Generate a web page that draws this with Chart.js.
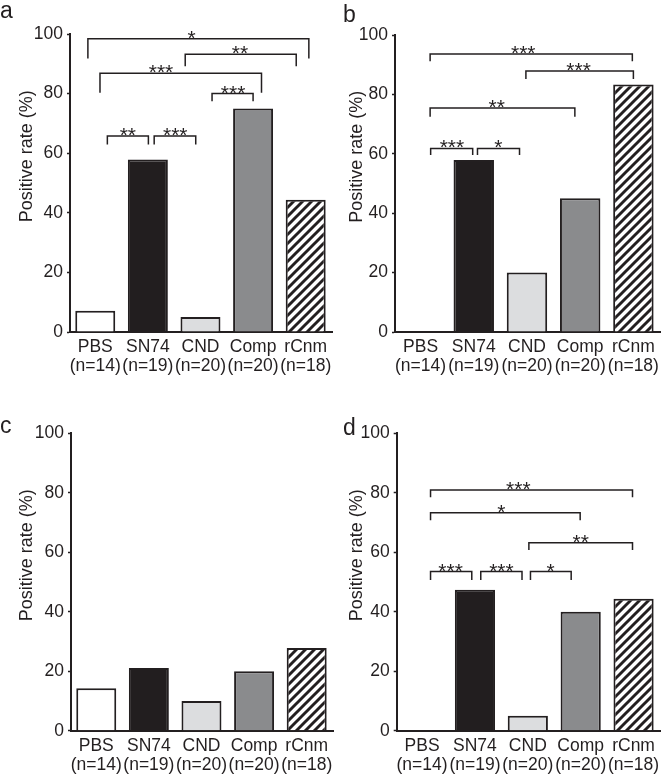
<!DOCTYPE html>
<html>
<head>
<meta charset="utf-8">
<script src="https://cdn.jsdelivr.net/npm/chart.js@4.4.1/dist/chart.umd.min.js"></script>
<style>
  body { margin: 0; background: #fff; }
  #wrap { position: relative; width: 663px; height: 777px; overflow: hidden; }
  canvas { position: absolute; }
</style>
</head>
<body>
<div id="wrap">
  <canvas id="panelA"></canvas>
  <canvas id="panelB"></canvas>
  <canvas id="panelC"></canvas>
  <canvas id="panelD"></canvas>
</div>
<script>
// groups and values (positive rate, %)
const categories = ["PBS", "SN74", "CND", "Comp", "rCnm"];
const groupSizes = ["(n=14)", "(n=19)", "(n=20)", "(n=20)", "(n=18)"];
const valuesA = [7.1, 57.9, 5.0, 75.0, 44.4];
const valuesB = [0, 57.9, 20.0, 45.0, 83.3];
const valuesC = [14.3, 21.1, 10.0, 20.0, 27.8];
const valuesD = [0, 47.4, 5.0, 40.0, 44.4];
const yTicks = [0, 20, 40, 60, 80, 100];
const yTitle = "Positive rate (%)";

// significance brackets: [from group, to group, top, tick end, label, label at]
const bracketsA = [
  [-0.14, 4.06, 98.4, 91.8, "*", 1.83],
  [1.71, 3.82, 93.2, 89.2, "**", 2.75],
  [0.09, 3.16, 86.8, 80.3, "***", 1.25],
  [2.22, 3.0, 80.0, 77.4, "***", 2.62],
  [0.23, 1.01, 65.8, 62.9, "**", 0.62],
  [1.12, 1.91, 65.8, 62.9, "***", 1.52]
];
const bracketsB = [
  [0.18, 3.98, 93.6, 91.2, "***", 1.93],
  [1.98, 4.0, 87.9, 85.2, "***", 2.97],
  [0.18, 2.9, 75.4, 72.5, "**", 1.43],
  [0.19, 0.98, 61.8, 59.6, "***", 0.59],
  [1.07, 1.86, 61.8, 59.6, "*", 1.46]
];
const bracketsC = [];
const bracketsD = [
  [0.16, 3.98, 80.9, 78.5, "***", 1.82],
  [0.16, 2.99, 73.3, 70.8, "*", 1.5],
  [2.02, 3.98, 63.2, 60.8, "**", 3.0],
  [0.16, 0.94, 53.5, 50.7, "***", 0.54],
  [1.11, 1.89, 53.5, 50.7, "***", 1.5],
  [2.05, 2.82, 53.5, 50.7, "*", 2.43]
];

const ink = "#231f20";
const fontFamily = "'Liberation Sans', Arial, sans-serif";

// hachures pour rCnm
function makeHatch() {
  const tile = document.createElement("canvas");
  tile.width = 9;
  tile.height = 9;
  const t = tile.getContext("2d");
  t.fillStyle = "#fff";
  t.fillRect(0, 0, 9, 9);
  t.strokeStyle = ink;
  t.lineWidth = 2.9;
  t.beginPath();
  t.moveTo(-4, 4); t.lineTo(4, -4);
  t.moveTo(-2, 11); t.lineTo(11, -2);
  t.moveTo(5, 13); t.lineTo(13, 5);
  t.stroke();
  return t.createPattern(tile, "repeat");
}

const barColors = ["#ffffff", "#221e1f", "#dcdddf", "#8a8b8d", makeHatch()];

// brackets, y title and panel letter
const panelExtras = {
  id: "panelExtras",
  afterDraw(chart, args, opts) {
    const ctx = chart.ctx;
    const xs = chart.scales.x;
    const ys = chart.scales.y;
    ctx.save();
    ctx.strokeStyle = ink;
    ctx.fillStyle = ink;
    ctx.lineWidth = 1.5;
    ctx.textAlign = "center";
    ctx.textBaseline = "alphabetic";
    ctx.font = "21px " + fontFamily;
    opts.brackets.forEach(([from, to, top, end, label, at]) => {
      const x1 = xs.getPixelForValue(from);
      const x2 = xs.getPixelForValue(to);
      const yt = ys.getPixelForValue(top);
      const ye = ys.getPixelForValue(end);
      ctx.beginPath();
      ctx.moveTo(x1, ye);
      ctx.lineTo(x1, yt);
      ctx.lineTo(x2, yt);
      ctx.lineTo(x2, ye);
      ctx.stroke();
      ctx.fillText(label, xs.getPixelForValue(at), yt + 6);
    });

    ctx.save();
    ctx.translate(27.5, ys.getPixelForValue(59));
    ctx.rotate(-Math.PI / 2);
    ctx.font = "18px " + fontFamily;
    ctx.textBaseline = "middle";
    ctx.fillText(yTitle, 0, 0);
    ctx.restore();

    ctx.font = "23px " + fontFamily;
    ctx.textAlign = "left";
    ctx.fillText(opts.letter, opts.letterX, opts.letterY);
    ctx.restore();
  }
};

function makePanel(id, box, letter, values, brackets) {
  const canvas = document.getElementById(id);
  canvas.width = box.w;
  canvas.height = box.h;
  canvas.style.left = box.x + "px";
  canvas.style.top = box.y + "px";
  canvas.style.width = box.w + "px";
  canvas.style.height = box.h + "px";

  return new Chart(canvas.getContext("2d"), {
    type: "bar",
    data: {
      datasets: [{
        data: values.map((v, i) => ({ x: i, y: v })),
        backgroundColor: barColors,
        borderColor: ink,
        borderWidth: 2,
        categoryPercentage: 1,
        barPercentage: 0.76
      }]
    },
    options: {
      responsive: false,
      animation: false,
      devicePixelRatio: 1,
      layout: { padding: { left: 0, top: box.top, right: box.w - box.right, bottom: 0 } },
      plugins: {
        legend: { display: false },
        tooltip: { enabled: false },
        panelExtras: { brackets: brackets, letter: letter, letterX: box.lx, letterY: box.ly }
      },
      scales: {
        x: {
          type: "linear",
          offset: false,
          min: -0.48,
          max: 4.5,
          grid: { display: false, offset: false },
          border: { display: true, color: ink, width: 2 },
          afterBuildTicks: (s) => { s.ticks = categories.map((c, i) => ({ value: i })); },
          afterFit: (s) => {
            s.height = box.h - box.bottom;
            s.paddingLeft = 0;
            s.paddingRight = 0;
          },
          ticks: {
            autoSkip: false,
            maxRotation: 0,
            padding: -2,
            color: ink,
            font: { family: fontFamily, size: 17.5, lineHeight: 1.08 },
            callback: (v) => [categories[v], groupSizes[v]]
          }
        },
        y: {
          min: 0,
          max: 100,
          grid: { drawOnChartArea: false, tickLength: 3, tickWidth: 1.5, tickColor: ink, color: ink },
          border: { display: true, color: ink, width: 2 },
          afterBuildTicks: (s) => { s.ticks = yTicks.map((v) => ({ value: v })); },
          afterFit: (s) => {
            s.width = box.left;
            s.paddingTop = 0;
            s.paddingBottom = 0;
          },
          ticks: {
            padding: 4,
            color: ink,
            font: { family: fontFamily, size: 17.5 }
          }
        }
      }
    },
    plugins: [panelExtras]
  });
}

makePanel("panelA", { x: 0, y: 0, w: 338, h: 388, left: 70, top: 34, right: 332, bottom: 332, lx: 0, ly: 18 }, "a", valuesA, bracketsA);
makePanel("panelB", { x: 330, y: 0, w: 333, h: 388, left: 65, top: 35, right: 330, bottom: 332, lx: 13, ly: 22 }, "b", valuesB, bracketsB);
makePanel("panelC", { x: 0, y: 388, w: 338, h: 389, left: 71, top: 45.3, right: 333, bottom: 342.7, lx: 0, ly: 45.3 }, "c", valuesC, bracketsC);
makePanel("panelD", { x: 330, y: 388, w: 333, h: 389, left: 66.7, top: 45.3, right: 330, bottom: 342.7, lx: 13, ly: 47 }, "d", valuesD, bracketsD);
</script>
</body>
</html>
